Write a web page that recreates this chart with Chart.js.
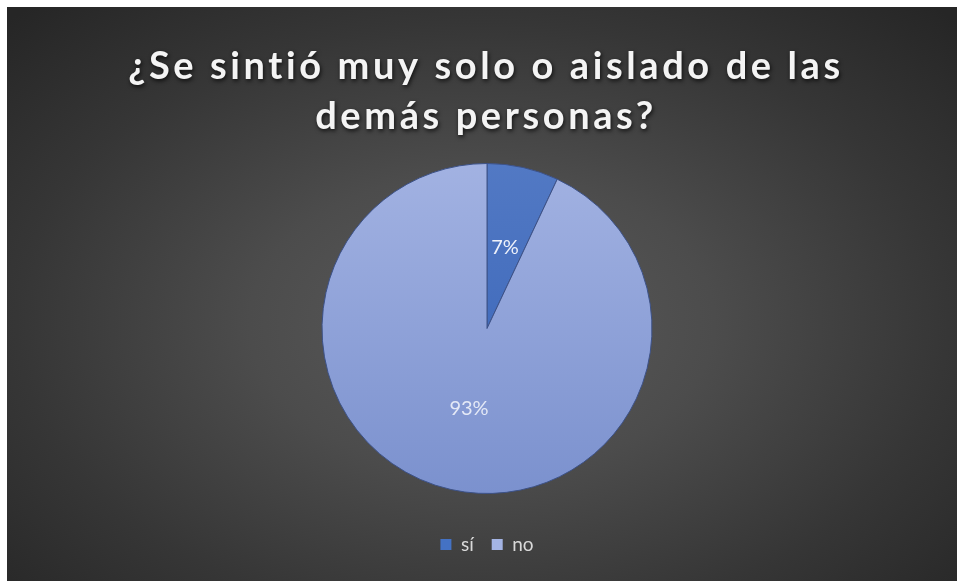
<!DOCTYPE html>
<html lang="es">
<head>
<meta charset="utf-8">
<title>Aislamiento</title>
<script src="https://cdn.jsdelivr.net/npm/chart.js@4.4.1/dist/chart.umd.min.js"></script>
<style>
  html, body { margin: 0; padding: 0; background: #ffffff; }
  #wrap {
    position: absolute; left: 7px; top: 7px; width: 950px; height: 574px;
    background: radial-gradient(ellipse 70% 75% at 50% 55%, #5b5b5b 0%, #4c4c4c 35%, #363636 70%, #262626 100%);
  }
</style>
</head>
<body>
<div id="wrap"><canvas id="chart"></canvas></div>
<script>
  const titulo = ['¿Se sintió muy solo o aislado de las', 'demás personas?'];
  const respuestas = ['sí', 'no'];
  const porcentajes = [7, 93];

  // colores de cada porción: arriba, abajo y el de la leyenda
  const colorArriba = ['#5279c4', '#a2b2e2'];
  const colorAbajo = ['#3461b6', '#7b91ce'];
  const colorLeyenda = ['#4472c4', '#a4b4e4'];
  const colorEtiqueta = ['#eef1fa', '#e4e9f6'];
  const RADIO = 165;

  function degradado(context) {
    const chart = context.chart;
    const area = chart.chartArea;
    const i = context.dataIndex;
    if (!area) return colorLeyenda[i];
    const cy = (area.top + area.bottom) / 2;
    const g = chart.ctx.createLinearGradient(0, cy - RADIO, 0, cy + RADIO);
    g.addColorStop(0, colorArriba[i]);
    g.addColorStop(1, colorAbajo[i]);
    return g;
  }

  // titulo con espaciado y sombra
  const tituloPlugin = {
    id: 'tituloSombra',
    afterDraw(chart) {
      const c = chart.ctx;
      c.save();
      c.font = 'bold 38px Lato';
      c.letterSpacing = '3.6px';
      c.textAlign = 'center';
      c.textBaseline = 'alphabetic';
      c.fillStyle = '#f4f4f4';
      c.shadowColor = 'rgba(0,0,0,0.75)';
      c.shadowBlur = 4;
      c.shadowOffsetX = 1;
      c.shadowOffsetY = 2;
      titulo.forEach((t, k) => c.fillText(t, chart.width / 2 + 4, 72 + k * 50));
      c.restore();
    }
  };

  // porcentajes dentro de cada porción
  const etiquetasPlugin = {
    id: 'etiquetas',
    afterDatasetsDraw(chart) {
      const c = chart.ctx;
      const meta = chart.getDatasetMeta(0);
      c.save();
      c.font = '20px Lato';
      c.textAlign = 'center';
      c.textBaseline = 'middle';
      meta.data.forEach((arc, i) => {
        const p = arc.getCenterPoint();
        c.fillStyle = colorEtiqueta[i];
        c.fillText(porcentajes[i] + '%', p.x, p.y);
      });
      c.restore();
    }
  };

  new Chart(document.getElementById('chart'), {
    type: 'pie',
    data: {
      labels: respuestas,
      datasets: [{
        data: porcentajes,
        backgroundColor: degradado,
        borderColor: '#3d5288',
        borderWidth: 1,
        radius: RADIO
      }]
    },
    options: {
      responsive: true,
      maintainAspectRatio: false,
      animation: false,
      layout: { padding: { top: 133, bottom: 17, left: 10, right: 0 } },
      plugins: {
        title: { display: false },
        tooltip: { enabled: false },
        legend: {
          position: 'bottom',
          labels: {
            color: '#d9d9d9',
            font: { family: 'Lato', size: 19 },
            boxWidth: 11,
            boxHeight: 11,
            padding: 18,
            generateLabels(chart) {
              return respuestas.map((r, i) => ({
                text: r,
                fillStyle: colorLeyenda[i],
                strokeStyle: colorLeyenda[i],
                lineWidth: 0,
                fontColor: '#d9d9d9',
                index: i
              }));
            }
          }
        }
      }
    },
    plugins: [tituloPlugin, etiquetasPlugin]
  });
</script>
</body>
</html>
